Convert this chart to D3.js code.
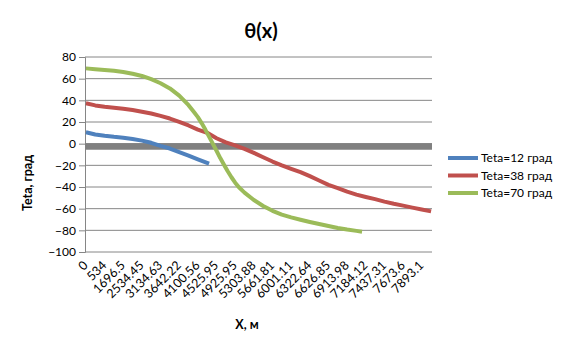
<!DOCTYPE html>
<html>
<head>
<meta charset="utf-8">
<script src="https://cdn.jsdelivr.net/npm/d3@7"></script>
<style>
  body { margin: 0; background: #fff; }
  text { font-family: Lato, "Open Sans", sans-serif; fill: #000; }
</style>
</head>
<body>
<div id="chart"></div>
<script>
// category labels shown on the x axis (every 10th category, 186 categories total)
const xLabels = ["0", "534", "1696.5", "2534.45", "3134.63", "3642.22", "4100.56", "4525.95",
  "4925.95", "5303.88", "5661.81", "6001.11", "6322.64", "6626.85", "6913.98", "7184.12",
  "7437.31", "7673.6", "7893.1"];
const nCategories = 186;
const labelStep = 10;

const yTicks = [-100, -80, -60, -40, -20, 0, 20, 40, 60, 80];

// series: category index -> theta value
const blueIdx = [0, 5, 10, 15, 20, 25, 30, 35, 40, 45, 50, 55, 60, 66];
const blueVal = [10.5, 8.5, 7.3, 6.3, 5.5, 4.3, 2.8, 0.8, -2, -4.5, -7.8, -11, -14.5, -18.5];

const redIdx = [0, 5, 10, 15, 20, 25, 30, 35, 40, 45, 50, 55, 60, 65, 70, 75, 80, 85, 90, 95,
  100, 105, 110, 115, 120, 125, 130, 135, 140, 145, 150, 155, 160, 165, 170, 175, 180, 185];
const redVal = [37.3, 35.3, 34, 33.2, 32.2, 31, 29.5, 27.8, 25.7, 23.2, 20.2, 16.8, 13, 10, 5, 1.2,
  -1.5, -4.8, -8.5, -12.5, -16.5, -20, -23.2, -26.2, -30, -34, -38, -41, -44.3, -47, -49.2,
  -51.2, -53.5, -55.5, -57.2, -59, -60.8, -62.5];

const greenIdx = [0, 5, 10, 15, 20, 25, 30, 35, 40, 45, 50, 55, 58, 60, 62, 64, 66, 68, 70, 72,
  74, 76, 78, 80, 82, 85, 90, 95, 100, 105, 110, 115, 120, 125, 130, 135, 140, 145, 148];
const greenVal = [69.5, 68.8, 68.1, 67.3, 66.2, 64.5, 62.5, 59.5, 55.8, 51, 44.3, 35.5, 29, 24.5,
  19, 13, 6.5, 0, -6.5, -13.3, -19.5, -25.5, -31, -36, -40.2, -45.2, -52, -57.5, -62, -65.5,
  -68, -70.2, -72.3, -74.2, -76, -77.8, -79.3, -80.5, -81.3];

// thick gray reference band near zero
const baseLevel = -2.5;

const seriesNames = ["Teta=12 град", "Teta=38 град", "Teta=70 град"];
const seriesColors = ["#4F81BD", "#C0504D", "#9BBB59"];

const width = 563, height = 353;
const margin = {left: 85, right: 131, top: 57, bottom: 101};

const svg = d3.select("#chart").append("svg")
  .attr("width", width)
  .attr("height", height);

const x = d3.scaleLinear()
  .domain([-0.5, nCategories - 0.5])
  .range([margin.left, width - margin.right]);

const y = d3.scaleLinear()
  .domain([-100, 80])
  .range([height - margin.bottom, margin.top]);

// gridlines
svg.append("g")
  .selectAll("line")
  .data(yTicks)
  .join("line")
  .attr("x1", margin.left)
  .attr("x2", width - margin.right)
  .attr("y1", d => y(d))
  .attr("y2", d => y(d))
  .attr("stroke", "#868686")
  .attr("stroke-width", 1);

// y axis
const yAxis = svg.append("g")
  .attr("transform", `translate(${margin.left},0)`)
  .call(d3.axisLeft(y).tickValues(yTicks).tickSize(6).tickPadding(3));
yAxis.select(".domain").attr("stroke", "#868686");
yAxis.selectAll(".tick line").attr("stroke", "#868686");
yAxis.selectAll(".tick text").style("font-size", "12px");

// x axis
const xAxis = svg.append("g")
  .attr("transform", `translate(0,${y(-100)})`)
  .call(d3.axisBottom(x)
    .tickValues(xLabels.map((d, i) => i * labelStep))
    .tickFormat((d, i) => xLabels[i])
    .tickSize(0));
xAxis.select(".domain").remove();
xAxis.selectAll(".tick text")
  .style("font-size", "12.5px")
  .attr("text-anchor", "end")
  .attr("transform", "translate(-4,8) rotate(-45)")
  .attr("dy", "0.7em")
  .attr("y", 0);

// gray band
svg.append("line")
  .attr("x1", margin.left)
  .attr("x2", width - margin.right)
  .attr("y1", y(baseLevel))
  .attr("y2", y(baseLevel))
  .attr("stroke", "#808080")
  .attr("stroke-width", 6.5);

const line = d3.line()
  .x(d => x(d[0]))
  .y(d => y(d[1]));

const series = [
  d3.zip(blueIdx, blueVal),
  d3.zip(redIdx, redVal),
  d3.zip(greenIdx, greenVal)
];

svg.append("g")
  .selectAll("path")
  .data(series)
  .join("path")
  .attr("d", line)
  .attr("fill", "none")
  .attr("stroke", (d, i) => seriesColors[i])
  .attr("stroke-width", 4)
  .attr("stroke-linejoin", "round");

// legend
const legend = svg.append("g")
  .selectAll("g")
  .data(seriesNames)
  .join("g")
  .attr("transform", (d, i) => `translate(448,${158 + i * 17.5})`);
legend.append("line")
  .attr("x1", 0).attr("x2", 30)
  .attr("stroke", (d, i) => seriesColors[i])
  .attr("stroke-width", 4);
legend.append("text")
  .attr("x", 33)
  .attr("dy", "0.35em")
  .style("font-size", "12px")
  .text(d => d);

// titles
svg.append("text")
  .attr("x", 261).attr("y", 38)
  .attr("text-anchor", "middle")
  .style("font-size", "20px")
  .style("font-weight", "bold")
  .text("θ(x)");

svg.append("text")
  .attr("transform", "translate(32,183) rotate(-90)")
  .attr("text-anchor", "middle")
  .style("font-size", "12.5px")
  .style("font-weight", "bold")
  .text("Teta, град");

svg.append("text")
  .attr("x", 247).attr("y", 329)
  .attr("text-anchor", "middle")
  .style("font-size", "12.5px")
  .style("font-weight", "bold")
  .text("X, м");
</script>
</body>
</html>
